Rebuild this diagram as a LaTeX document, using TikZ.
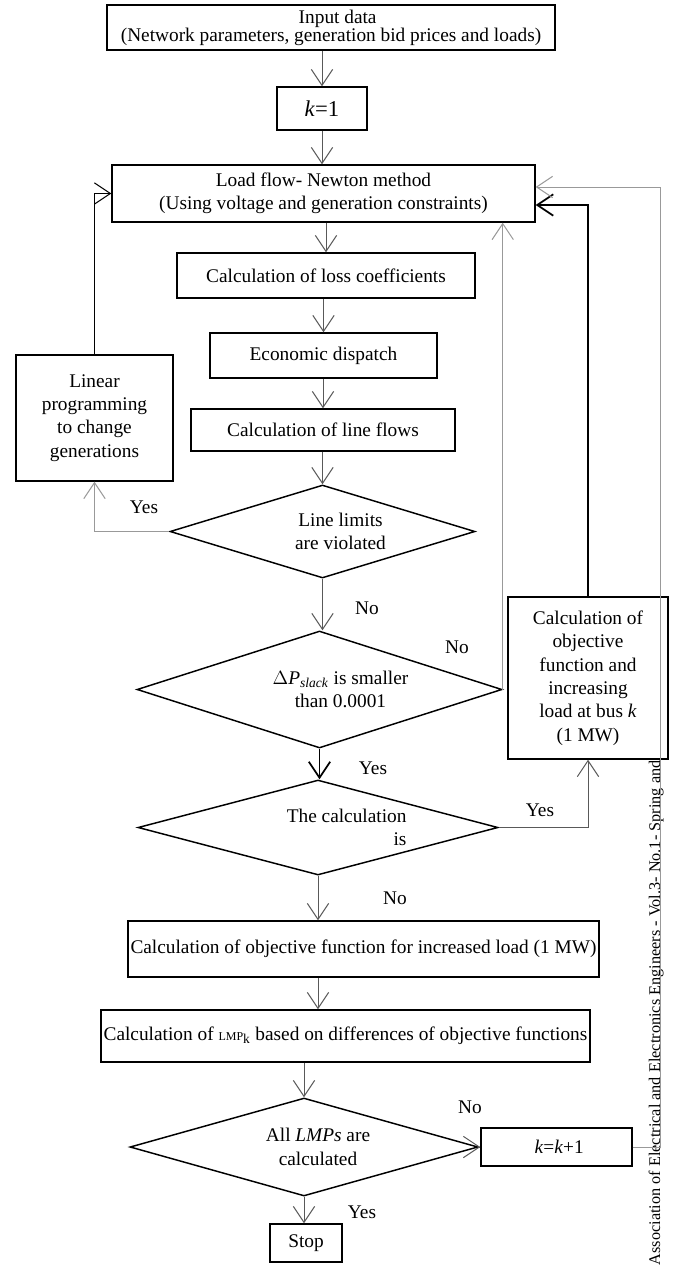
\documentclass[tikz,border=0pt]{standalone}
\usepackage{fontspec}
\setmainfont{Liberation Serif}
\usetikzlibrary{shapes.geometric,arrows.meta,calc}

\tikzset{every picture/.style={line width=0.75pt}}
\tikzset{
  proc/.style={draw, line width=1.1pt, inner sep=2pt, align=center, fill=white,
    font=\fontsize{14.5}{17.5}\selectfont},
  decide/.style={draw, shape=diamond, line width=1.1pt, inner sep=0pt},
  txt/.style={inner sep=0.75pt, align=center, font=\fontsize{14.5}{17.5}\selectfont},
  arr/.style={draw=black!65, -{Straight Barb[length=12pt,width=16pt]}},
  arrg/.style={draw=black!40, -{Straight Barb[length=12pt,width=16pt]}},
  arrb/.style={draw=black, line width=1.3pt, -{Straight Barb[length=12pt,width=16pt]}},
}

\begin{document}
\begin{tikzpicture}[x=0.75pt,y=0.75pt,yscale=-1,xscale=1]
\useasboundingbox (0,0) rectangle (673,1268);

% Footer Text
\node [rotate=90, anchor=base east, inner sep=0pt, font=\fontsize{12.2}{14}\selectfont] (footer) at (660,760)
  {Association of Electrical and Electronics Engineers - Vol.3- No.1- Spring and};

%Shape: Rectangle [input]
\node [proc, minimum width=336pt, minimum height=33.75pt, font=\fontsize{14.5}{13.5}\selectfont] (input) at (331,27.5)
  {\hspace*{10pt}Input data\\(Network parameters, generation bid prices and loads)};
%Shape: Rectangle [k=1]
\node [proc, minimum width=67.5pt, minimum height=32.25pt, font=\fontsize{17}{20}\selectfont] (k1) at (322,108.5) {\textit{k}=1};
%Shape: Rectangle [load flow]
\node [proc, minimum width=317.25pt, minimum height=42.75pt] (flow) at (323.5,193.5)
  {Load flow- Newton method\\(Using voltage and generation constraints)};
%Shape: Rectangle [loss]
\node [proc, minimum width=223.5pt, minimum height=33.75pt] (loss) at (326,275.5) {Calculation of loss coefficients};
%Shape: Rectangle [dispatch]
\node [proc, minimum width=170.25pt, minimum height=33.75pt] (disp) at (323.5,355.5) {Economic dispatch};
%Shape: Rectangle [line flows]
\node [proc, minimum width=198pt, minimum height=31.5pt] (lines) at (323,430) {Calculation of line flows};
%Shape: Rectangle [linear programming]
\node [proc, minimum width=117.75pt, minimum height=94.5pt] (linprog) at (94.5,418)
  {Linear\\programming\\to change\\generations};

%Shape: Diamond [line limits]
\node [decide, minimum width=228.75pt, minimum height=69.75pt] (limits) at (322.5,531.5) {};
\node [txt] (limitsT) at ($(limits)+(18,0)$) {Line limits\\are violated};
%Shape: Diamond [delta P]
\node [decide, minimum width=273.75pt, minimum height=87.75pt] (dP) at (319.5,689.5) {};
\node [txt] (dPT) at ($(dP)+(21,0)$) {$\Delta$\textit{P}\textsubscript{\textit{slack}} is smaller\\than 0.0001};
%Shape: Rectangle [objective and increasing load]
\node [proc, minimum width=120pt, minimum height=121.5pt] (objk) at (588,678)
  {Calculation of\\objective\\function and\\increasing\\load at bus \textit{k}\\(1 MW)};
%Shape: Diamond [calculation]
\node [decide, minimum width=270pt, minimum height=71.25pt] (calc) at (318,827.5) {};
\node [txt, anchor=east, align=right] (calcT) at ($(calc)+(90,0)$) {The calculation\\is};

%Shape: Rectangle [increased load]
\node [proc, minimum width=350.25pt, minimum height=42pt] (objinc) at (363.5,949)
  {Calculation of objective function for increased load (1 MW)};
%Shape: Rectangle [LMP]
\node [proc, minimum width=359.25pt, minimum height=39pt] (LMP) at (345.5,1036)
  {Calculation of {\small LMP}\textsubscript{k} based on differences of objective functions};
%Shape: Diamond [all LMPs]
\node [decide, minimum width=261pt, minimum height=73.5pt] (All) at (304,1147) {};
\node [txt] (AllT) at ($(All)+(14,0)$) {All \textit{LMPs} are\\calculated};
%Shape: Rectangle [k=k+1]
\node [proc, minimum width=113.25pt, minimum height=28.5pt] (kk) at (556.5,1147)
  {\hspace*{4pt}\textit{k}=\textit{k}+1};
%Shape: Rectangle [stop]
\node [proc, minimum width=54pt, minimum height=28.5pt] (stop) at (306,1243) {Stop};

% Text Node
\node [txt] (yes1) at (144,507) {Yes};
\node [txt] (no1) at (367,608) {No};
\node [txt] (no2) at (457,647) {No};
\node [txt] (yes2) at (373,768) {Yes};
\node [txt] (yes3) at (540,810) {Yes};
\node [txt] (no3) at (395,898) {No};
\node [txt] (no4) at (470,1107) {No};
\node [txt] (yes4) at (362,1212) {Yes};

%Straight Lines
\draw [arr] (input.south -| k1.north) -- (k1.north);
\draw [arr] (k1.south) -- (k1.south |- flow.north);
\draw [arr] (flow.south -| loss.north) -- (loss.north);
\draw [arr] (loss.south -| disp.north) -- (disp.north);
\draw [arr] (disp.south -| lines.north) -- (lines.north);
\draw [arr] (lines.south -| limits.north) -- (limits.north);
\draw [arrg] (limits.west) -| (linprog.south);
\draw [arr, draw=black] (linprog.north) |- (flow.west);
\draw [arr] (limits.south) -- (limits.south |- dP.north);
\draw [arrg] (dP.east) -- (dP.east |- flow.south);
\draw [arrb] (dP.south) -- (dP.south |- calc.north);
\draw [arr] (calc.east) -| (objk.south);
\draw [arrb] (objk.north) |- ($(flow.east)+(0,11.5)$);
\draw [arr] (calc.south) -- (calc.south |- objinc.north);
\draw [arr] (objinc.south -| calc.south) -- (LMP.north -| calc.south);
\draw [arr] (LMP.south -| All.north) -- (All.north);
\draw [arr] (All.east) -- (kk.west);
\draw [arr] (All.south) -- (All.south |- stop.north);
%Loop back from k=k+1
\coordinate (rail) at (660,187);
\draw [arrg] (kk.east) -| (rail) -- (rail -| flow.east);

\end{tikzpicture}
\end{document}
